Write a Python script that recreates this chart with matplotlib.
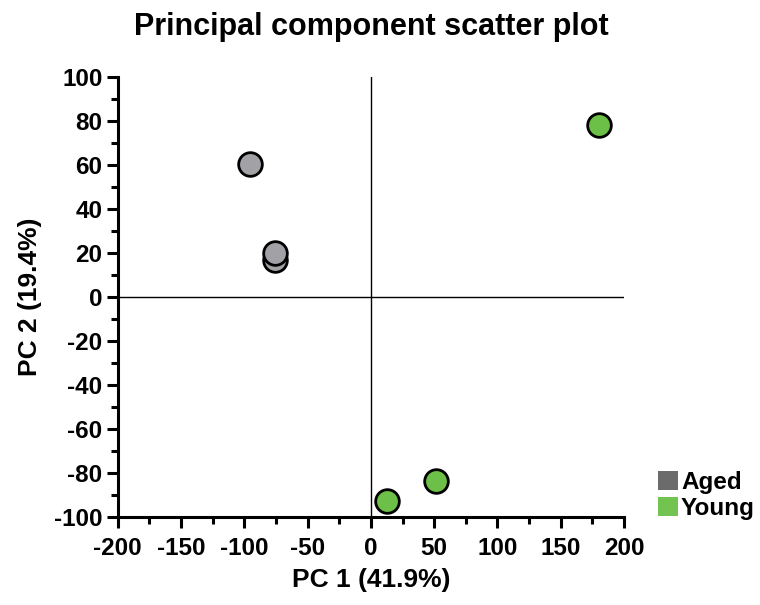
import matplotlib.pyplot as plt
from matplotlib.patches import Patch
from matplotlib.ticker import MultipleLocator

plt.rcParams['font.family'] = ['Liberation Sans', 'DejaVu Sans']
plt.rcParams['font.weight'] = 'bold'
plt.rcParams['axes.unicode_minus'] = False

# PCA scores
aged_pc1 = [-95.7, -75.5, -76.0]
aged_pc2 = [60.5, 17.0, 20.2]
young_pc1 = [180.0, 51.4, 12.6]
young_pc2 = [78.2, -83.7, -92.7]

groups = ["Aged", "Young"]
legend_colors = ["#6b6b6b", "#72c34f"]
point_colors = ["#a2a2a6", "#6cbf47"]

fig = plt.figure(figsize=(7.6, 6.05), dpi=100)
ax = fig.add_axes([0.155, 0.145, 0.666, 0.728])

ax.axhline(0, color='black', linewidth=1.0, zorder=1)
ax.axvline(0, color='black', linewidth=1.0, zorder=1)

ax.scatter(aged_pc1, aged_pc2, s=290, color=point_colors[0], edgecolor='black', linewidth=2.0, zorder=3, clip_on=False)
ax.scatter(young_pc1, young_pc2, s=290, color=point_colors[1], edgecolor='black', linewidth=2.0, zorder=3, clip_on=False)

ax.set_xlim(-200, 200)
ax.set_ylim(-100, 100)
ax.xaxis.set_major_locator(MultipleLocator(50))
ax.xaxis.set_minor_locator(MultipleLocator(25))
ax.yaxis.set_major_locator(MultipleLocator(20))
ax.yaxis.set_minor_locator(MultipleLocator(10))

for side in ['top', 'right']:
    ax.spines[side].set_visible(False)
for side in ['left', 'bottom']:
    ax.spines[side].set_linewidth(2.2)

ax.tick_params(which='major', length=8, width=2.2, labelsize=17.5)
ax.tick_params(which='minor', length=5, width=2.2)
ax.tick_params(axis='x', which='major', pad=6)
ax.tick_params(axis='y', which='major', pad=3)

ax.set_xlabel("PC 1 (41.9%)", fontsize=19, fontweight='bold', labelpad=6)
ax.set_ylabel("PC 2 (19.4%)", fontsize=19, fontweight='bold', labelpad=9)
ax.set_title("Principal component scatter plot", fontsize=22, fontweight='bold', pad=30)

handles = [Patch(facecolor=c, edgecolor='none', label=g) for g, c in zip(groups, legend_colors)]
fig.legend(handles=handles, loc='lower left', bbox_to_anchor=(0.866, 0.14),
           frameon=False, fontsize=17.5, handlelength=0.82, handleheight=0.82,
           handletextpad=0.12, labelspacing=0.15, borderaxespad=0, borderpad=0)

fig.savefig("out.png", dpi=100)
